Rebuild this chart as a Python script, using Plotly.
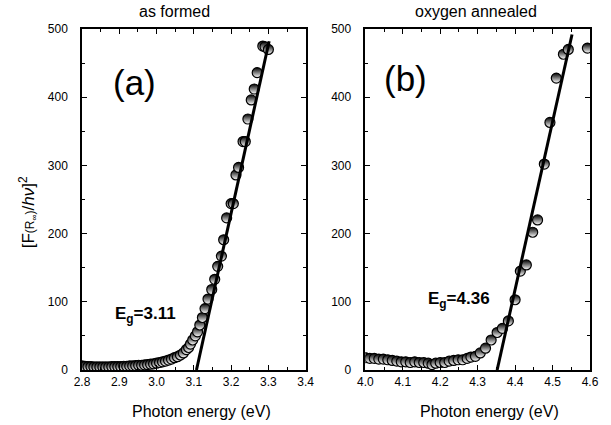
import plotly.graph_objects as go

# Panel (a): as formed
x_a = [2.800, 2.808, 2.816, 2.824, 2.832, 2.840, 2.848, 2.856, 2.864, 2.872,
       2.880, 2.888, 2.896, 2.904, 2.912, 2.920, 2.928, 2.936, 2.944, 2.952,
       2.960, 2.968, 2.976, 2.984, 2.992, 3.000, 3.008, 3.016, 3.024, 3.032,
       3.040, 3.048, 3.056, 3.064, 3.072, 3.080, 3.086, 3.091, 3.097, 3.104,
       3.110, 3.116, 3.123, 3.130, 3.138, 3.148, 3.156, 3.164, 3.174, 3.180,
       3.188, 3.200, 3.206, 3.213, 3.220, 3.232, 3.238, 3.245, 3.254, 3.262,
       3.270, 3.285, 3.291, 3.300]
y_a = [6, 5.5, 5, 5, 4.5, 4.5, 4.5, 4.5, 4.5, 4.5,
       5, 5, 5, 5, 5.5, 5.5, 6, 6, 6.5, 7,
       7, 7.5, 8, 8.5, 9, 10, 11, 12, 13, 14.5,
       16, 18, 19.5, 22, 25, 30, 33, 38, 44, 50,
       56, 66, 77, 90, 104, 118, 133, 152, 167, 191,
       223, 244, 244, 286, 297, 335, 335, 368, 396, 412,
       436, 475, 474, 470]
fit_a_x = [3.107, 3.302]
fit_a_y = [0, 482]

# Panel (b): oxygen annealed
x_b = [4.000, 4.012, 4.024, 4.036, 4.048, 4.060, 4.072, 4.084, 4.096, 4.108,
       4.120, 4.132, 4.144, 4.156, 4.168, 4.178, 4.188, 4.200, 4.212, 4.224,
       4.236, 4.248, 4.260, 4.272, 4.282, 4.294, 4.307, 4.321, 4.336, 4.352,
       4.366, 4.382, 4.400, 4.414, 4.430, 4.447, 4.460, 4.478, 4.493, 4.510,
       4.529, 4.542, 4.593]
y_b = [18, 17, 17, 16, 16, 15, 14, 13, 12, 12,
       11, 12, 11, 11, 10, 8, 10, 11, 11, 13,
       14, 15, 15, 17, 19, 20, 25, 32, 44, 55,
       61, 72, 103, 145, 154, 202, 220, 302, 363, 428,
       463, 470, 472]
fit_b_x = [4.352, 4.552]
fit_b_y = [0, 492]

x_ticks_a = [2.8, 2.9, 3.0, 3.1, 3.2, 3.3, 3.4]
x_ticks_b = [4.0, 4.1, 4.2, 4.3, 4.4, 4.5, 4.6]
y_ticks = [0, 100, 200, 300, 400, 500]

FONT = "Liberation Sans, Arial, sans-serif"

marker = dict(symbol="circle", size=10, color="black",
              gradient=dict(type="vertical", color="white"),
              line=dict(color="black", width=1.2))

fig = go.Figure()
fig.add_trace(go.Scatter(x=x_a, y=y_a, mode="markers", marker=marker,
                         xaxis="x", yaxis="y", showlegend=False))
fig.add_trace(go.Scatter(x=fit_a_x, y=fit_a_y, mode="lines",
                         line=dict(color="black", width=3),
                         xaxis="x", yaxis="y", showlegend=False))
fig.add_trace(go.Scatter(x=x_b, y=y_b, mode="markers", marker=marker,
                         xaxis="x2", yaxis="y2", showlegend=False))
fig.add_trace(go.Scatter(x=fit_b_x, y=fit_b_y, mode="lines",
                         line=dict(color="black", width=3),
                         xaxis="x2", yaxis="y2", showlegend=False))

ax_common = dict(showline=True, linecolor="black", linewidth=1.5, mirror="ticks",
                 ticks="inside", ticklen=5, tickwidth=1.2, tickcolor="black",
                 showgrid=False, zeroline=False,
                 tickfont=dict(family=FONT, size=12, color="black"),
                 minor=dict(ticks="inside", ticklen=3, tickwidth=1, tickcolor="black"))

fig.update_layout(
    width=611, height=425,
    margin=dict(l=82, r=18, t=29, b=55),
    paper_bgcolor="white", plot_bgcolor="white",
    font=dict(family=FONT, color="black"),
    xaxis=dict(domain=[0, 0.4403], range=[2.8, 3.4], tickvals=x_ticks_a,
               ticktext=[f"{v:.1f}" for v in x_ticks_a],
               anchor="y", **ax_common),
    yaxis=dict(range=[0, 500], tickvals=y_ticks, anchor="x",
               ticklabelstandoff=10, **ax_common),
    xaxis2=dict(domain=[0.5577, 1], range=[4.0, 4.6], tickvals=x_ticks_b,
                ticktext=[f"{v:.1f}" for v in x_ticks_b],
                anchor="y2", **ax_common),
    yaxis2=dict(range=[0, 500], tickvals=y_ticks, anchor="x2",
                ticklabelstandoff=10, **ax_common),
)
fig.update_xaxes(minor=dict(dtick=0.05), dtick=0.1)
fig.update_yaxes(minor=dict(dtick=50), dtick=100)

def A(**kw):
    d = dict(showarrow=False, xanchor="center", yanchor="middle")
    d.update(kw)
    return d

ann = [
    A(text="as formed", x=0.182, y=1.05, xref="paper", yref="paper",
      font=dict(size=16, family=FONT)),
    A(text="oxygen annealed", x=0.775, y=1.05, xref="paper", yref="paper",
      font=dict(size=16, family=FONT)),
    A(text="Photon energy (eV)", x=0.235, y=-0.123, xref="paper", yref="paper",
      font=dict(size=16, family=FONT)),
    A(text="Photon energy (eV)", x=0.802, y=-0.123, xref="paper", yref="paper",
      font=dict(size=16, family=FONT)),
    A(text="[F<span style='font-size:12px'>(R<sub>∞</sub>)</span>/<i>hν</i>]<sup>2</sup>",
      x=-0.108, y=0.463, xref="paper", yref="paper", textangle=-90,
      font=dict(size=17, family=FONT)),
    A(text="(a)", x=2.941, y=422, xref="x", yref="y",
      font=dict(size=35, family=FONT)),
    A(text="(b)", x=4.106, y=428, xref="x2", yref="y2",
      font=dict(size=35, family=FONT)),
    A(text="<b>E<sub>g</sub>=3.11</b>", x=2.971, y=81, xref="x", yref="y",
      font=dict(size=17, family=FONT)),
    A(text="<b>E<sub>g</sub>=4.36</b>", x=4.25, y=103, xref="x2", yref="y2",
      font=dict(size=17, family=FONT)),
]
fig.update_layout(annotations=ann)

fig.write_html("out.html", config={"displayModeBar": False},
               post_script="document.body.style.margin='0px';document.body.style.padding='0px';")
